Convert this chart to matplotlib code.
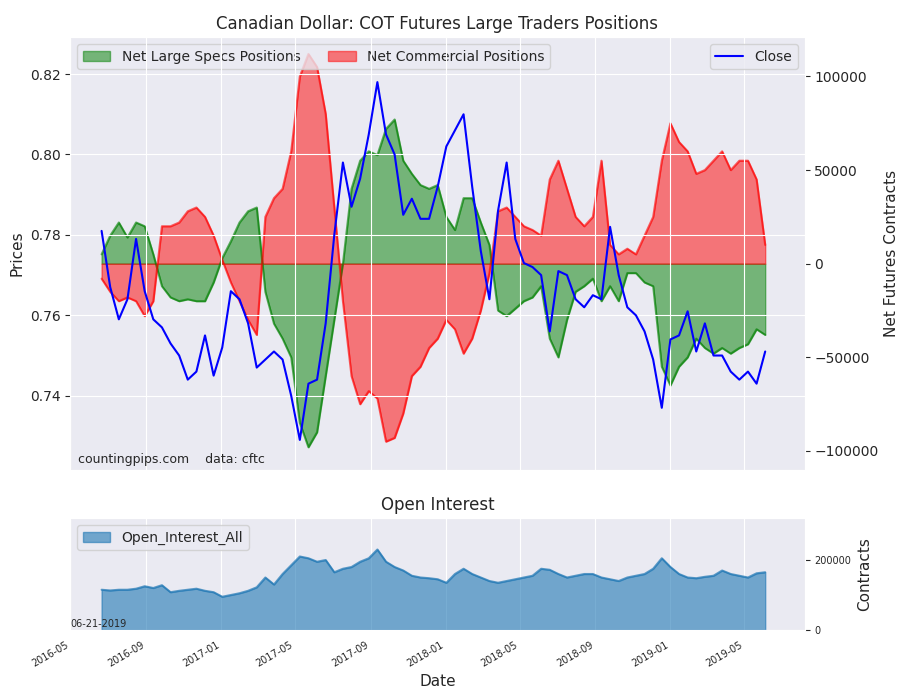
import matplotlib
matplotlib.use("Agg")
import matplotlib.pyplot as plt
import matplotlib.dates as mdates
import seaborn as sns
import pandas as pd

sns.set_style("darkgrid")

dates = pd.date_range("2016-06-21", periods=78, freq="14D")

close = [0.781, 0.767, 0.759, 0.764, 0.779, 0.766, 0.759, 0.757, 0.753, 0.750,
         0.744, 0.746, 0.755, 0.745, 0.752, 0.766, 0.764, 0.758, 0.747, 0.749,
         0.751, 0.749, 0.740, 0.729, 0.743, 0.744, 0.758, 0.780, 0.798, 0.787,
         0.794, 0.805, 0.818, 0.805, 0.800, 0.785, 0.789, 0.784, 0.784, 0.792,
         0.802, 0.806, 0.810, 0.792, 0.776, 0.764, 0.786, 0.798, 0.779, 0.773,
         0.772, 0.770, 0.756, 0.771, 0.770, 0.764, 0.762, 0.765, 0.764, 0.782,
         0.770, 0.762, 0.760, 0.756, 0.749, 0.737, 0.754, 0.755, 0.761, 0.751,
         0.758, 0.750, 0.750, 0.746, 0.744, 0.746, 0.743, 0.751]

# thousands of contracts
specs = [5, 15, 22, 14, 22, 20, 5, -12, -18, -20, -19, -20, -20, -10, 3, 12, 22, 28, 30, -15,
         -32, -40, -50, -85, -98, -90, -60, -30, 0, 40, 55, 60, 58, 72, 77, 55, 48, 42, 40, 42,
         25, 18, 35, 35, 22, 10, -25, -28, -24, -20, -18, -12, -40, -50, -30, -15, -12, -8, -20, -12,
         -20, -5, -5, -10, -12, -55, -65, -55, -50, -40, -45, -48, -45, -48, -45, -43, -35, -38]

comms = [-8, -15, -20, -18, -20, -28, -20, 20, 20, 22, 28, 30, 25, 15, 2, -10, -20, -30, -38, 25,
         35, 40, 60, 100, 112, 105, 80, 30, -20, -60, -75, -68, -72, -95, -93, -80, -60, -55, -45, -40,
         -30, -35, -48, -40, -25, -5, 28, 30, 25, 20, 18, 15, 45, 55, 40, 25, 20, 25, 55, 10,
         5, 8, 5, 15, 25, 55, 75, 65, 60, 48, 50, 55, 60, 50, 55, 55, 45, 10]

open_interest = [115, 113, 115, 115, 118, 125, 120, 128, 108, 112, 115, 118, 112, 108, 95, 100,
                 105, 112, 122, 150, 130, 160, 185, 210, 205, 195, 200, 165, 175, 180, 195, 205,
                 230, 195, 180, 170, 155, 150, 148, 145, 135, 160, 175, 160, 150, 140, 135, 140,
                 145, 150, 155, 175, 172, 160, 150, 155, 160, 160, 150, 145, 140, 150, 155, 160,
                 175, 205, 180, 160, 150, 148, 152, 155, 170, 160, 155, 150, 162, 165]

specs = [v * 1000 for v in specs]
comms = [v * 1000 for v in comms]
open_interest = [v * 1000 for v in open_interest]

fig = plt.figure(figsize=(9, 7), dpi=100)
ax = fig.add_axes([0.078, 0.329, 0.816, 0.618])
ax2 = ax.twinx()
axb = fig.add_axes([0.078, 0.10, 0.816, 0.16], sharex=ax)

# net positions on the right axis
ax2.fill_between(dates, specs, 0, color="green", alpha=0.5, label="Net Large Specs Positions")
ax2.plot(dates, specs, color="green", alpha=0.6)
ax2.fill_between(dates, comms, 0, color="red", alpha=0.5, label="Net Commercial Positions")
ax2.plot(dates, comms, color="red", alpha=0.6)
ax2.set_ylim(-110000, 121000)
ax2.set_ylabel("Net Futures Contracts", fontsize=11)
ax2.grid(False)
ax2.legend(loc="upper left", ncol=2, fontsize=10)

ax.plot(dates, close, color="blue", label="Close", zorder=5)
ax.set_ylim(0.7216, 0.8292)
ax.set_ylabel("Prices", fontsize=11)
ax.set_title("Canadian Dollar: COT Futures Large Traders Positions", fontsize=12)
ax.set_zorder(ax2.get_zorder() + 1)
ax.patch.set_visible(False)
ax2.patch.set_visible(True)
ax.legend(loc="upper right", fontsize=10)
ax.text(0.01, 0.015, "countingpips.com    data: cftc", transform=ax.transAxes, fontsize=9)
plt.setp(ax.get_xticklabels(), visible=False)

axb.fill_between(dates, open_interest, 0, color="#1f77b4", alpha=0.6, label="Open_Interest_All")
axb.plot(dates, open_interest, color="#1f77b4", alpha=0.7)
axb.set_ylim(0, 320000)
axb.set_yticks([])
axb.set_title("Open Interest", fontsize=12)
axb.legend(loc="upper left", fontsize=10)
axb.text(0.0, 0.03, "06-21-2019", transform=axb.transAxes, fontsize=7)
axb2 = axb.twinx()
axb2.set_ylim(0, 320000)
axb2.set_yticks([0, 200000])
axb2.tick_params(labelsize=7)
axb2.set_ylabel("Contracts", fontsize=11)
axb2.grid(False)
axb.set_xlabel("Date", fontsize=11)

axb.set_xlim(pd.Timestamp("2016-05-01"), pd.Timestamp("2019-08-07"))
axb.xaxis.set_major_locator(mdates.MonthLocator(bymonth=[1, 5, 9]))
axb.xaxis.set_major_formatter(mdates.DateFormatter("%Y-%m"))
for lbl in axb.get_xticklabels():
    lbl.set_rotation(30)
    lbl.set_ha("right")
    lbl.set_fontsize(7)

fig.savefig("out.png", dpi=100)
